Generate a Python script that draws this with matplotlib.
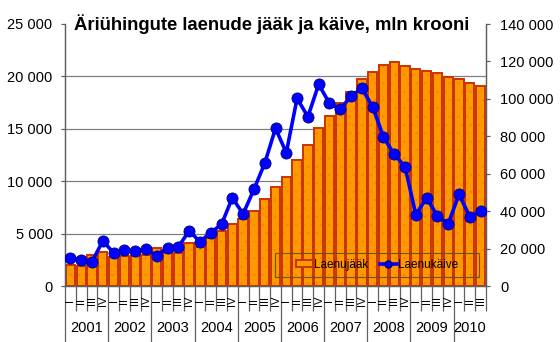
import numpy as np
import matplotlib
matplotlib.use('Agg')
import matplotlib.pyplot as plt
from matplotlib.patches import Patch, Rectangle
from matplotlib.lines import Line2D
from matplotlib.ticker import FuncFormatter, FixedLocator

plt.rcParams['font.family'] = ['Liberation Sans', 'DejaVu Sans']
plt.rcParams['hatch.linewidth'] = 0.5

years = ['2001', '2002', '2003', '2004', '2005', '2006', '2007', '2008', '2009', '2010']
quarters = ['I', 'II', 'III', 'IV']
n_quarters = 39  # 2001 I .. 2010 III

# loan stock, mln kroons (right axis)
laenujaak = [11200, 10900, 16500, 18000, 15700, 16200, 16200, 16600,
             20500, 17800, 17800, 23100, 21000, 25500, 29400, 33000,
             35600, 40100, 46500, 53100, 58400, 67300, 75300, 84600,
             91000, 97600, 103800, 110400, 114500, 118000, 119600, 117600,
             116000, 115000, 114000, 111500, 110600, 108700, 106900]

# loan turnover, mln kroons (left axis)
laenukaive = [2670, 2480, 2320, 4300, 3180, 3430, 3370, 3530,
              2890, 3650, 3750, 5250, 4230, 5090, 5880, 8420,
              6870, 9220, 11700, 15040, 12720, 17900, 16150, 19240,
              17430, 16850, 18130, 18860, 17100, 14220, 12560, 11390,
              6800, 8420, 6680, 5920, 8750, 6610, 7160]

fmt = FuncFormatter(lambda v, p: '{:,.0f}'.format(v).replace(',', ' '))

fig = plt.figure(figsize=(5.6, 3.42), dpi=100)
ax = fig.add_axes([65 / 560, 1 - 286 / 342, 421 / 560, 262 / 342])
ax2 = ax.twinx()
x = np.arange(n_quarters)

# bars on the main axes (ticks on the right), line on the twin (ticks on the left)
# first pass: dotted orange fill, second pass: red outline
ax.bar(x, laenujaak, width=0.86, color='#FF9900', edgecolor='#EE8800',
       hatch='..', linewidth=0, zorder=2)
ax.bar(x, laenujaak, width=0.86, fill=False, edgecolor='#CC3300',
       linewidth=1.4, zorder=2)
ax.set_ylim(0, 140000)
ax.set_xlim(-0.5, n_quarters - 0.5)
ax.yaxis.tick_right()
ax.yaxis.set_major_locator(FixedLocator(np.arange(0, 140001, 20000)))
ax.yaxis.set_major_formatter(fmt)

ax2.plot(x, laenukaive, color='#0000FF', lw=2.6, marker='o', ms=8,
         mfc='#0000FF', mec='#000080', mew=0.6, zorder=3)
ax2.set_ylim(0, 25000)
ax2.yaxis.tick_left()
ax2.yaxis.set_major_locator(FixedLocator(np.arange(0, 25001, 5000)))
ax2.yaxis.set_major_formatter(fmt)

# gridlines of the left scale, under the bars
for v in range(5000, 25000, 5000):
    ax.axhline(v / 25000 * 140000, color='#808080', lw=0.9, zorder=0)

for a in (ax, ax2):
    a.spines['top'].set_visible(False)
    for s in ('left', 'right', 'bottom'):
        a.spines[s].set_color('#606060')
        a.spines[s].set_linewidth(0.9)
    a.tick_params(axis='y', length=3, width=0.9, color='#606060',
                  labelsize=10.5, labelcolor='black')
ax.tick_params(axis='y', pad=7)
ax2.tick_params(axis='y', pad=6)

# quarter and year dividers under the axis
ax.set_xticks(np.arange(-0.5, n_quarters, 4))
ax.set_xticks(np.arange(-0.5, n_quarters, 1), minor=True)
ax.set_xticklabels([])
ax.tick_params(axis='x', which='major', direction='out', length=41,
               width=0.9, color='#606060')
ax.tick_params(axis='x', which='minor', direction='out', length=18,
               width=0.9, color='#606060')

xt = ax.get_xaxis_transform()
for i in range(n_quarters):
    ax.text(i, -0.057, quarters[i % 4], rotation=90, ha='center', va='center',
            fontsize=8, transform=xt, clip_on=False)
for k, yr in enumerate(years):
    last = min(4 * k + 3, n_quarters - 1)
    ax.text((4 * k + last) / 2, -0.16, yr, ha='center', va='center',
            fontsize=10.5, transform=xt, clip_on=False)

# legend: plain frame box with the entries centred inside
ax2.add_patch(Rectangle((0.499, 0.034), 0.484, 0.092, transform=ax2.transAxes,
                        fill=False, edgecolor='#665522', lw=0.8, zorder=4))
handles = [Patch(facecolor='#FF9900', edgecolor='#CC3300', linewidth=1.4),
           Line2D([], [], color='#0000FF', lw=2.6, marker='o', ms=5,
                  mfc='#0000FF', mec='#000080')]
ax2.legend(handles, ['Laenujääk', 'Laenukäive'], ncol=2, loc='center',
           bbox_to_anchor=(0.741, 0.080), borderaxespad=0, fontsize=8.5,
           frameon=False, handlelength=1.45, handletextpad=0.1,
           handleheight=0.5, columnspacing=1.0)

fig.text(74 / 560, 1 - 24 / 342, 'Äriühingute laenude jääk ja käive, mln krooni',
         fontsize=13.3, fontweight='bold', ha='left', va='center')

fig.savefig('out.png', dpi=100)
